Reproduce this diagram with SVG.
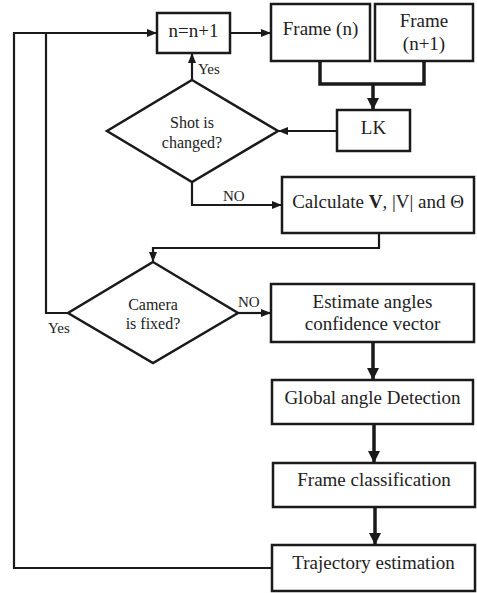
<svg xmlns="http://www.w3.org/2000/svg" width="477" height="593" viewBox="0 0 477 593">
<style>
.box{fill:#fff;stroke:#1a1a1a;stroke-width:2.5}
.t{font-family:"Liberation Serif","Times New Roman",serif;font-size:19px;fill:#222;text-anchor:middle}
.d{font-family:"Liberation Serif","Times New Roman",serif;font-size:16px;fill:#222;text-anchor:middle}
.l{font-family:"Liberation Serif","Times New Roman",serif;font-size:15px;fill:#222}
.c{fill:none;stroke:#1a1a1a;stroke-width:2.2}
.ck{fill:none;stroke:#1a1a1a;stroke-width:3.5}
</style>
<defs>
<marker id="a" markerWidth="10" markerHeight="8" refX="9" refY="4" orient="auto" markerUnits="userSpaceOnUse"><path d="M0,0 L10,4 L0,8 z" fill="#1a1a1a"/></marker>
<marker id="ab" markerWidth="12" markerHeight="12" refX="11" refY="6" orient="auto" markerUnits="userSpaceOnUse"><path d="M0,0 L12,6 L0,12 z" fill="#1a1a1a"/></marker>
</defs>
<g id="connectors">
<path class="c" d="M230,33 H270" marker-end="url(#a)"/>
<path class="ck" d="M320,61 V84 H424 V61"/>
<path class="ck" d="M373,84 V109" marker-end="url(#ab)"/>
<path class="c" d="M337,131 H279" marker-end="url(#a)"/>
<path class="c" d="M192,80 V54" marker-end="url(#a)"/>
<path class="c" d="M192,182 V205 H281" marker-end="url(#a)"/>
<path class="c" d="M379,233 V248 H153 V261" marker-end="url(#a)"/>
<path class="c" d="M68,313 H46 V33"/>
<path class="c" d="M238,313 H270" marker-end="url(#a)"/>
<path class="ck" d="M373,342 V379" marker-end="url(#ab)"/>
<path class="ck" d="M374,424 V462" marker-end="url(#ab)"/>
<path class="ck" d="M375,507 V544" marker-end="url(#ab)"/>
<path class="c" d="M272,568 H14 V33 H156" marker-end="url(#a)"/>
<text class="l" x="198" y="74">Yes</text>
<text class="l" x="223" y="201">NO</text>
<text class="l" x="48" y="333">Yes</text>
<text class="l" x="238" y="307">NO</text>
</g>
<g id="n1"><rect class="box" x="157" y="13" width="73" height="40"/><text class="t" x="193.5" y="37">n=n+1</text></g>
<g id="frame-n"><rect class="box" x="271" y="4" width="99" height="57"/><text class="t" x="320.5" y="35">Frame (n)</text></g>
<g id="frame-n1"><rect class="box" x="375" y="4" width="98" height="57"/><text class="t" x="424" y="27">Frame</text><text class="t" x="424" y="50">(n+1)</text></g>
<g id="lk"><rect class="box" x="337" y="110" width="73" height="41"/><text class="t" x="373.5" y="134">LK</text></g>
<g id="shot"><path class="box" d="M192,80 L278,131 L192,182 L107,131 z"/><text class="d" x="192" y="128">Shot is</text><text class="d" x="192" y="148">changed?</text></g>
<g id="calc"><rect class="box" x="282" y="177" width="192" height="56"/><text class="t" x="378" y="208">Calculate <tspan font-weight="bold">V</tspan>, |V| and Θ</text></g>
<g id="camera"><path class="box" d="M153,262 L238,313 L153,363 L68,313 z"/><text class="d" x="153" y="310">Camera</text><text class="d" x="153" y="329">is fixed?</text></g>
<g id="estimate"><rect class="box" x="271" y="284" width="203" height="58"/><text class="t" x="372.5" y="308">Estimate angles</text><text class="t" x="372.5" y="330">confidence vector</text></g>
<g id="global"><rect class="box" x="272" y="380" width="201" height="44"/><text class="t" x="372.5" y="404">Global angle Detection</text></g>
<g id="frameclass"><rect class="box" x="273" y="463" width="202" height="44"/><text class="t" x="374" y="486">Frame classification</text></g>
<g id="traj"><rect class="box" x="272" y="545" width="203" height="46"/><text class="t" x="373.5" y="569">Trajectory estimation</text></g>
</svg>
